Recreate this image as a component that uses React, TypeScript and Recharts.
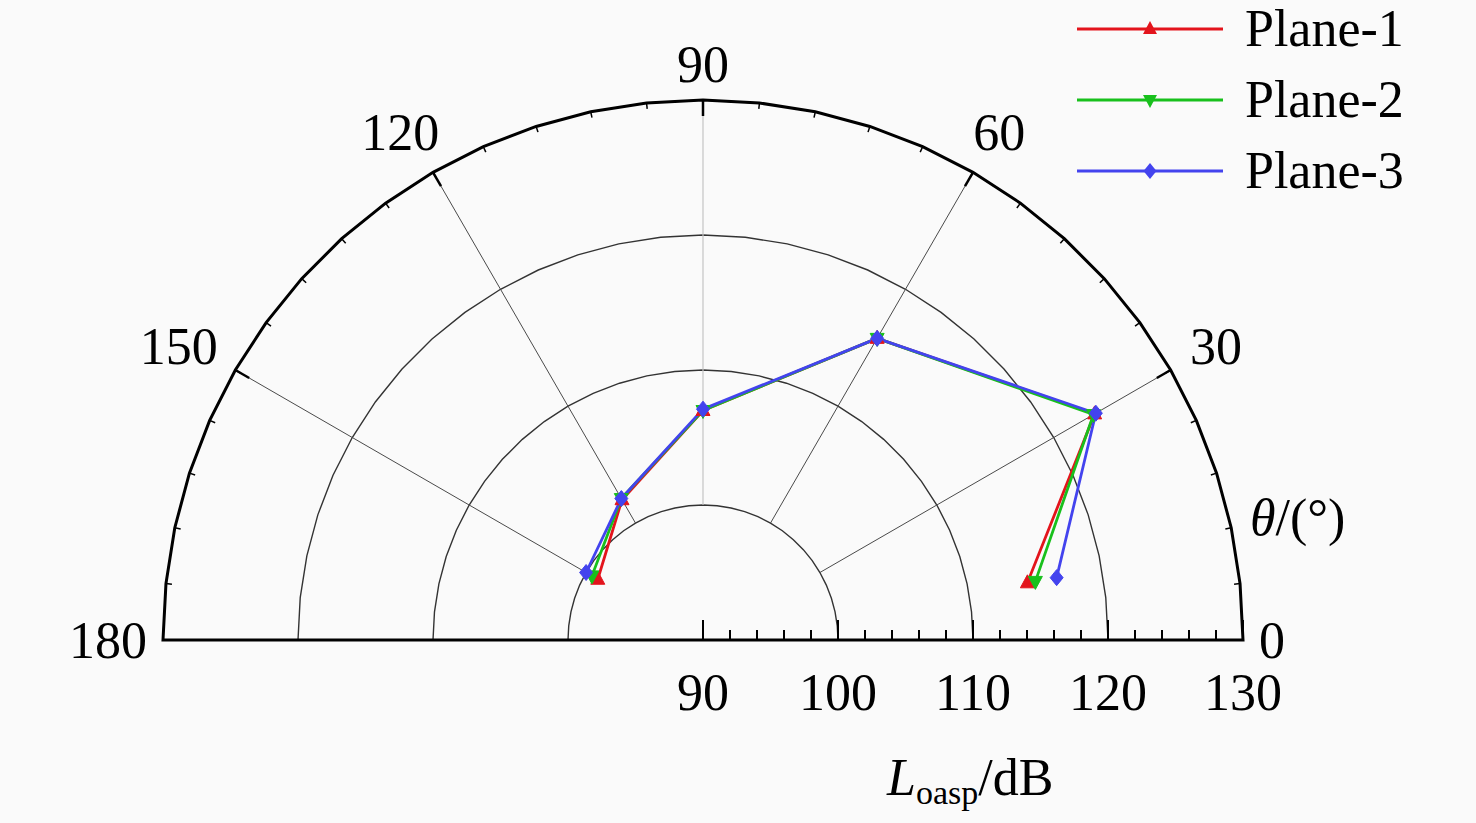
import React from 'react';
import {
  RadarChart,
  Radar,
  PolarGrid,
  PolarAngleAxis,
  PolarRadiusAxis,
  Legend,
} from 'recharts';

// measuring angles (deg) and overall sound pressure level per plane (dB)
const angles = [10, 30, 60, 90, 120, 150];
const plane1 = [114.4, 123.5, 115.8, 107.0, 102.0, 99.0];
const plane2 = [115.0, 123.4, 115.8, 107.0, 102.1, 99.5];
const plane3 = [116.6, 123.6, 115.8, 107.1, 102.1, 100.0];

const angleLabels = [0, 30, 60, 90, 120, 150, 180];
const angleMajor = [30, 60, 90, 120, 150];
const angleMinor = [
  0, 6, 12, 18, 24, 30, 36, 42, 48, 54, 60, 66, 72, 78, 84, 90, 96, 102, 108, 114, 120, 126,
  132, 138, 144, 150, 156, 162, 168, 174, 180,
];
const darkSpokes = [30, 60, 120, 150];
const lightSpokes = [90];
const levelTicks = [90, 100, 110, 120, 130];
const levelMinor = [92, 94, 96, 98, 102, 104, 106, 108, 112, 114, 116, 118, 122, 124, 126, 128];

const FONT = "'Liberation Serif', 'Times New Roman', serif";

const data = angles.map((angle, i) => ({
  angle,
  p1: plane1[i],
  p2: plane2[i],
  p3: plane3[i],
}));

type Shape = 'up' | 'down' | 'diamond';

const series: { key: string; name: string; color: string; shape: Shape }[] = [
  { key: 'p1', name: 'Plane-1', color: '#e3141c', shape: 'up' },
  { key: 'p2', name: 'Plane-2', color: '#18c01c', shape: 'down' },
  { key: 'p3', name: 'Plane-3', color: '#4343ee', shape: 'diamond' },
];

function markerPoints(shape: Shape, x: number, y: number) {
  if (shape === 'up') return `${x},${y - 8} ${x - 7},${y + 5} ${x + 7},${y + 5}`;
  if (shape === 'down') return `${x},${y + 8} ${x - 7},${y - 5} ${x + 7},${y - 5}`;
  return `${x},${y - 8} ${x + 6.5},${y} ${x},${y + 8} ${x - 6.5},${y}`;
}

// open polyline through the points the library computed (a radar polygon would close)
const openLine = (color: string) => (props: any) => {
  const pts = (props.points || []).filter(
    (p: any) => Number.isFinite(p.x) && Number.isFinite(p.y)
  );
  const d = pts.map((p: any, i: number) => `${i ? 'L' : 'M'}${p.x},${p.y}`).join(' ');
  return <path d={d} fill="none" stroke={color} strokeWidth={2.8} strokeLinejoin="round" />;
};

const dotFor = (color: string, shape: Shape) => (p: any) => {
  if (!Number.isFinite(p.cx) || !Number.isFinite(p.cy)) return <g key={p.index} />;
  return <polygon key={p.index} points={markerPoints(shape, p.cx, p.cy)} fill={color} stroke={color} />;
};

const renderAngleLabel = (props: any) => {
  const { x, y, payload } = props;
  const text = String(payload.value);
  const rad = (payload.coordinate * Math.PI) / 180;
  // diagonal labels sit a little further out
  const extra = 12 * Math.abs(Math.sin(2 * rad));
  const shift = Math.cos(rad) * (13 * text.length - 20);
  return (
    <text
      x={x + shift + Math.cos(rad) * extra}
      y={y - Math.sin(rad) * extra}
      textAnchor="middle"
      dominantBaseline="central"
      fontFamily={FONT}
      fontSize={52}
      fill="#000"
    >
      {text}
    </text>
  );
};

const renderLevelTick = (props: any) => {
  const { x, y, payload } = props;
  return (
    <g>
      <line x1={x} y1={y} x2={x} y2={y - 20} stroke="#000" strokeWidth={2} />
      <text
        x={x}
        y={y + 52}
        textAnchor="middle"
        dominantBaseline="central"
        fontFamily={FONT}
        fontSize={52}
        fill="#000"
      >
        {payload.value}
      </text>
    </g>
  );
};

const renderMinorTick = (props: any) => {
  const { x, y } = props;
  return <line x1={x} y1={y} x2={x} y2={y - 10} stroke="#000" strokeWidth={2} />;
};

const renderLegend = () => (
  <div style={{ fontFamily: FONT, fontSize: 52, color: '#000' }}>
    {series.map((s) => (
      <div key={s.key} style={{ display: 'flex', alignItems: 'center', height: 71 }}>
        <svg width={146} height={20} style={{ overflow: 'visible' }}>
          <line x1={0} y1={10} x2={146} y2={10} stroke={s.color} strokeWidth={2.8} />
          <polygon points={markerPoints(s.shape, 73, 10)} fill={s.color} />
        </svg>
        <span style={{ marginLeft: 22, whiteSpace: 'nowrap' }}>{s.name}</span>
      </div>
    ))}
  </div>
);

export default function App() {
  return (
    <div
      style={{
        position: 'absolute',
        left: 0,
        top: 0,
        width: 1476,
        height: 823,
        background: '#fafafa',
        overflow: 'hidden',
      }}
    >
      <RadarChart
        width={1476}
        height={823}
        data={data}
        cx={703}
        cy={640}
        innerRadius={0}
        outerRadius={540}
        startAngle={0}
        endAngle={180}
        margin={{ top: 0, right: 0, bottom: 0, left: 0 }}
      >
        <PolarGrid
          gridType="polygon"
          polarAngles={angleMinor}
          radialLines={false}
          stroke="#333"
          strokeWidth={1.4}
        />

        {/* spokes from the 100 dB ring outwards, drawn as long inner tick lines */}
        <PolarAngleAxis
          angleAxisId="spokes"
          dataKey="angle"
          type="number"
          domain={[0, 180]}
          allowDataOverflow
          ticks={darkSpokes}
          axisLine={false}
          orientation="inner"
          tickSize={405}
          tickLine={{ stroke: '#4a4a4a', strokeWidth: 1 }}
          tick={false}
        />
        <PolarAngleAxis
          angleAxisId="spoke90"
          dataKey="angle"
          type="number"
          domain={[0, 180]}
          allowDataOverflow
          ticks={lightSpokes}
          axisLine={false}
          orientation="inner"
          tickSize={405}
          tickLine={{ stroke: '#c4c4c4', strokeWidth: 1.2 }}
          tick={false}
        />

        <PolarAngleAxis
          dataKey="angle"
          type="number"
          domain={[0, 180]}
          allowDataOverflow
          ticks={angleLabels}
          axisLine={false}
          tickLine={{ stroke: 'none' }}
          tickSize={36}
          tick={renderAngleLabel}
        />
        <PolarAngleAxis
          angleAxisId="minor"
          dataKey="angle"
          type="number"
          domain={[0, 180]}
          allowDataOverflow
          ticks={angleMinor}
          axisLineType="polygon"
          axisLine={{ stroke: '#000', strokeWidth: 3 }}
          orientation="inner"
          tickSize={6}
          tickLine={{ stroke: '#000', strokeWidth: 1.5 }}
          tick={false}
        />
        <PolarAngleAxis
          angleAxisId="major"
          dataKey="angle"
          type="number"
          domain={[0, 180]}
          allowDataOverflow
          ticks={angleMajor}
          axisLine={false}
          orientation="inner"
          tickSize={16}
          tickLine={{ stroke: '#000', strokeWidth: 2.5 }}
          tick={false}
        />

        <PolarRadiusAxis
          angle={0}
          type="number"
          domain={[90, 130]}
          allowDataOverflow
          ticks={levelTicks}
          axisLine={false}
          tick={renderLevelTick}
        />
        <PolarRadiusAxis
          radiusAxisId="minor"
          angle={0}
          type="number"
          domain={[90, 130]}
          allowDataOverflow
          ticks={levelMinor}
          axisLine={false}
          tick={renderMinorTick}
        />

        {series.map((s) => (
          <Radar
            key={s.key}
            name={s.name}
            dataKey={s.key}
            stroke={s.color}
            fill="none"
            shape={openLine(s.color)}
            dot={dotFor(s.color, s.shape)}
            isAnimationActive={false}
          />
        ))}

        <Legend
          layout="vertical"
          verticalAlign="top"
          align="right"
          content={renderLegend}
          wrapperStyle={{ position: 'absolute', left: 1077, top: -7, width: 390 }}
        />
      </RadarChart>

      <div
        style={{
          position: 'absolute',
          left: 1250,
          top: 492,
          fontFamily: FONT,
          fontSize: 52,
          lineHeight: '52px',
          whiteSpace: 'nowrap',
        }}
      >
        <span style={{ fontStyle: 'italic' }}>θ</span>/(°)
      </div>
      <div
        style={{
          position: 'absolute',
          left: 887,
          top: 752,
          fontFamily: FONT,
          fontSize: 52,
          lineHeight: '52px',
          whiteSpace: 'nowrap',
        }}
      >
        <span style={{ fontStyle: 'italic' }}>L</span>
        <span style={{ fontSize: 34, position: 'relative', top: 9 }}>oasp</span>/dB
      </div>
    </div>
  );
}
